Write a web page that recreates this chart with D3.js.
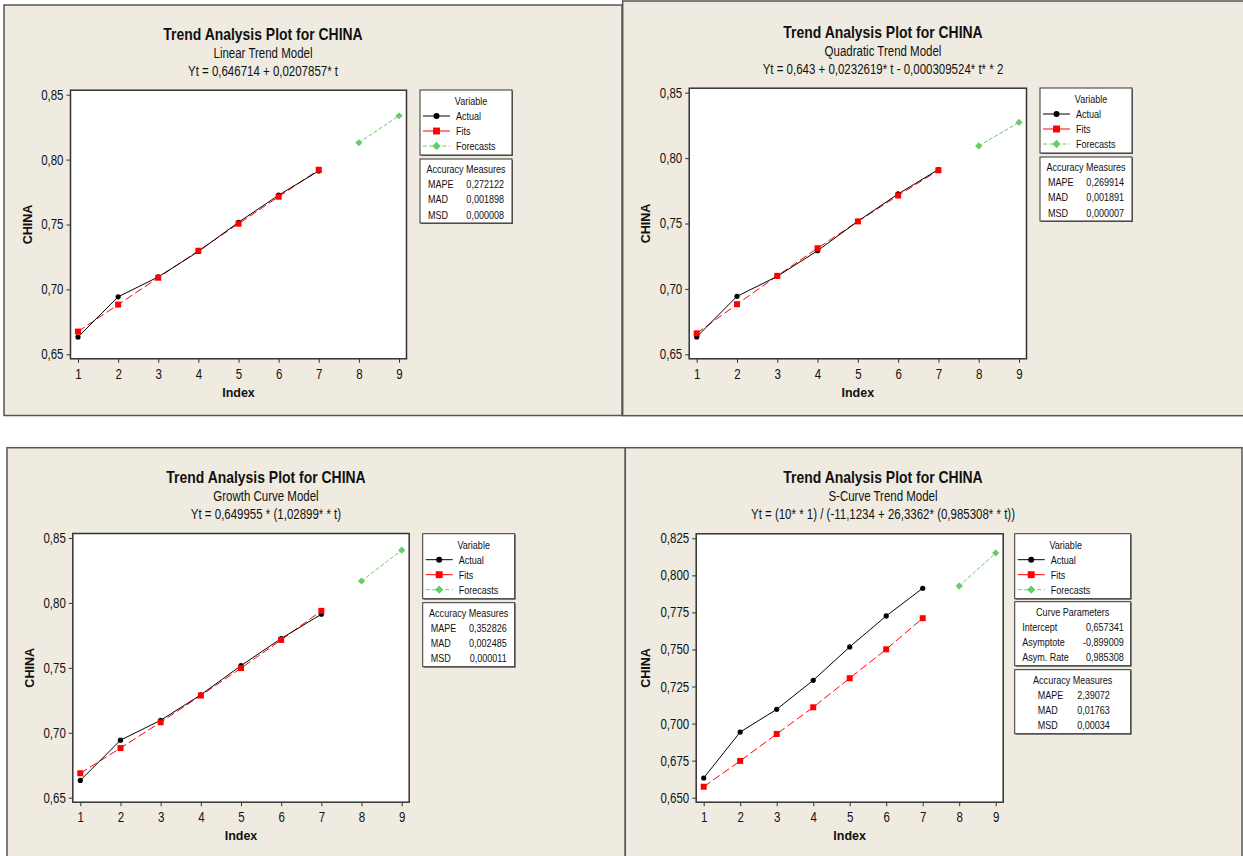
<!DOCTYPE html>
<html>
<head>
<meta charset="UTF-8">
<title>Trend Analysis Plot for CHINA</title>
<script src="https://cdn.jsdelivr.net/npm/d3@7"></script>
<style>
body { margin: 0; background: #fff; }
svg { display: block; }
text { font-family: "Liberation Sans", Arial, sans-serif; fill: #111; }
.title { font-weight: bold; font-size: 17px; }
.sub { font-size: 14px; }
.axlabel { font-weight: bold; font-size: 12.5px; }
.tick text { font-size: 14px; }
.tick line { stroke: #333; }
.leg { font-size: 11px; }
</style>
</head>
<body>
<svg id="chart" width="1243" height="856"></svg>
<script>
// ---- data ----
var fitIndex = [1, 2, 3, 4, 5, 6, 7];
var forecastIndex = [8, 9];
var xTicks = [1, 2, 3, 4, 5, 6, 7, 8, 9];
var yTicks = [0.65, 0.70, 0.75, 0.80, 0.85];
var yTicksS = [0.650, 0.675, 0.700, 0.725, 0.750, 0.775, 0.800, 0.825];

var actual = [0.6633, 0.6943, 0.7096, 0.7292, 0.7517, 0.7726, 0.7913];

var linearFits = [0.6675, 0.6883, 0.7090, 0.7298, 0.7506, 0.7714, 0.7922];
var linearForecasts = [0.8130, 0.8338];
var quadFits = [0.6660, 0.6883, 0.7100, 0.7311, 0.7516, 0.7714, 0.7907];
var quadForecasts = [0.8093, 0.8273];
var growthFits = [0.6688, 0.6882, 0.7081, 0.7287, 0.7498, 0.7715, 0.7939];
var growthForecasts = [0.8169, 0.8406];
var scurveFits = [0.6574, 0.6748, 0.6930, 0.7110, 0.7306, 0.7501, 0.7711];
var scurveForecasts = [0.7928, 0.8151];

var modelNames = ["Linear Trend Model", "Quadratic Trend Model", "Growth Curve Model", "S-Curve Trend Model"];
var equations = [
  "Yt = 0,646714 + 0,0207857* t",
  "Yt = 0,643 + 0,0232619* t - 0,000309524* t* * 2",
  "Yt = 0,649955 *  (1,02899* * t)",
  "Yt = (10* * 1) / (-11,1234 + 26,3362* (0,985308* * t))"
];
var accuracyLabels = ["MAPE", "MAD", "MSD"];
var linearAccuracy = ["0,272122", "0,001898", "0,000008"];
var quadAccuracy = ["0,269914", "0,001891", "0,000007"];
var growthAccuracy = ["0,352826", "0,002485", "0,000011"];
var scurveAccuracy = ["2,39072", "0,01763", "0,00034"];
var curveParamLabels = ["Intercept", "Asymptote", "Asym. Rate"];
var curveParamValues = ["0,657341", "-0,899009", "0,985308"];
var legendLabels = ["Actual", "Fits", "Forecasts"];

// ---- layout ----
var panels = [
  {frame: [4, 5, 618, 410.5], cx: 263, ty: 34, xr: [78, 399], yr: [354.3, 94.7], ticks: yTicks, dec: 2,
   legX: 420, legW: 92, legY: 90, name: modelNames[0], eq: equations[0], fits: linearFits, fc: linearForecasts, acc: linearAccuracy},
  {frame: [622.7, 1, 625, 414.7], cx: 883, ty: 31.7, xr: [696.7, 1019], yr: [354.3, 92.7], ticks: yTicks, dec: 2,
   legX: 1040, legW: 92, legY: 88, name: modelNames[1], eq: equations[1], fits: quadFits, fc: quadForecasts, acc: quadAccuracy},
  {frame: [7, 447.7, 618.3, 420], cx: 266, ty: 477, xr: [80.3, 401.7], yr: [797.7, 538], ticks: yTicks, dec: 2,
   legX: 422.7, legW: 92, legY: 533.7, name: modelNames[2], eq: equations[2], fits: growthFits, fc: growthForecasts, acc: growthAccuracy},
  {frame: [625.3, 447.7, 616.7, 420], cx: 883, ty: 477, xr: [703.7, 995.7], yr: [797.7, 538.3], ticks: yTicksS, dec: 3,
   legX: 1014.7, legW: 116, legY: 533.7, name: modelNames[3], eq: equations[3], fits: scurveFits, fc: scurveForecasts, acc: scurveAccuracy,
   params: true}
];

var locale = d3.formatLocale({decimal: ",", thousands: ".", grouping: [3], currency: ["", ""]});
var svg = d3.select("#chart");

function diamond(g, cx, cy, r) {
  g.append("path").attr("d", "M" + cx + "," + (cy - r) + "L" + (cx + r) + "," + cy + "L" + cx + "," + (cy + r) + "L" + (cx - r) + "," + cy + "Z")
    .attr("fill", "#66cc66");
}
function marker(g, kind, cx, cy, k) {
  k = k || 1;
  if (kind == 0) g.append("circle").attr("cx", cx).attr("cy", cy).attr("r", 2.6 * k).attr("fill", "#000");
  else if (kind == 1) g.append("rect").attr("x", cx - 3 * k).attr("y", cy - 3 * k).attr("width", 6 * k).attr("height", 6 * k).attr("fill", "#ff0000");
  else diamond(g, cx, cy, 3.6 * k);
}
var lineColor = ["#000", "#ff0000", "#66cc66"];
var lineDash = [null, "8,3.5", "4,2"];
var legendDash = [null, null, "4,2.5"];

function box(g, x, y, w, h) {
  g.append("rect").attr("x", x + 1).attr("y", y + 1).attr("width", w).attr("height", h).attr("fill", "#666");
  g.append("rect").attr("x", x).attr("y", y).attr("width", w).attr("height", h)
    .attr("fill", "#fff").attr("stroke", "#333").attr("stroke-width", 1);
}

function tableBox(g, x, y, w, title, labels, values, labelX, valueX, valueAnchor) {
  box(g, x, y, w, 64);
  g.append("text").attr("class", "leg n").attr("x", x + w / 2).attr("y", y + 14).attr("text-anchor", "middle").text(title);
  labels.forEach(function(l, i) {
    g.append("text").attr("class", "leg n").attr("x", x + labelX).attr("y", y + 29 + i * 15.3).text(l);
    g.append("text").attr("class", "leg n").attr("x", x + valueX).attr("y", y + 29 + i * 15.3)
      .attr("text-anchor", valueAnchor).text(values[i]);
  });
}

panels.forEach(function(p) {
  var g = svg.append("g");
  g.append("rect").attr("x", p.frame[0]).attr("y", p.frame[1]).attr("width", p.frame[2]).attr("height", p.frame[3])
    .attr("fill", "#efebe1").attr("stroke", "#555").attr("stroke-width", 1.5);

  g.append("text").attr("class", "title n").attr("x", p.cx).attr("y", p.ty + 6).attr("text-anchor", "middle").text("Trend Analysis Plot for CHINA");
  g.append("text").attr("class", "sub n").attr("x", p.cx).attr("y", p.ty + 24).attr("text-anchor", "middle").text(p.name);
  g.append("text").attr("class", "sub n").attr("x", p.cx).attr("y", p.ty + 42).attr("text-anchor", "middle").text(p.eq);

  var x = d3.scaleLinear().domain([1, 9]).range(p.xr);
  var y = d3.scaleLinear().domain([p.ticks[0], p.ticks[p.ticks.length - 1]]).range(p.yr);
  var bx = p.xr[0] - 7.5, bw = p.xr[1] - p.xr[0] + 15;
  var by = p.yr[1] - 4.5, bh = p.yr[0] - p.yr[1] + 9;

  g.append("rect").attr("x", bx).attr("y", by).attr("width", bw).attr("height", bh)
    .attr("fill", "#fff").attr("stroke", "#333").attr("stroke-width", 1.5);

  var fmt = locale.format("." + p.dec + "f");
  var ya = g.append("g").attr("transform", "translate(" + bx + ",0)")
    .call(d3.axisLeft(y).tickValues(p.ticks).tickSize(4).tickPadding(3).tickFormat(fmt));
  var xa = g.append("g").attr("transform", "translate(0," + (by + bh) + ")")
    .call(d3.axisBottom(x).tickValues(xTicks).tickSize(4).tickPadding(6).tickFormat(d3.format("d")));
  ya.select(".domain").remove();
  xa.select(".domain").remove();
  g.selectAll(".tick text").classed("n", true);

  g.append("text").attr("class", "axlabel").attr("x", bx + bw / 2).attr("y", by + bh + 38).attr("text-anchor", "middle").text("Index");
  g.append("text").attr("class", "axlabel").attr("text-anchor", "middle")
    .attr("transform", "translate(" + (bx - (p.dec == 3 ? 46 : 39)) + "," + (by + bh / 2) + ") rotate(-90)").text("CHINA");

  var line = d3.line().x(function(d) { return x(d[0]); }).y(function(d) { return y(d[1]); });
  var actualPts = fitIndex.map(function(t, i) { return [t, actual[i]]; });
  var fitPts = fitIndex.map(function(t, i) { return [t, p.fits[i]]; });
  var fcPts = forecastIndex.map(function(t, i) { return [t, p.fc[i]]; });

  [[fitPts, 1], [actualPts, 0], [fcPts, 2]].forEach(function(s) {
    g.append("path").attr("d", line(s[0])).attr("fill", "none")
      .attr("stroke", lineColor[s[1]]).attr("stroke-width", 1).attr("stroke-dasharray", lineDash[s[1]]);
  });
  [[actualPts, 0], [fitPts, 1], [fcPts, 2]].forEach(function(s) {
    s[0].forEach(function(d) { marker(g, s[1], x(d[0]), y(d[1])); });
  });

  // legend
  var lx = p.legX, ly = p.legY, lw = p.legW;
  box(g, lx, ly, lw, 65);
  g.append("text").attr("class", "leg n").attr("x", lx + 51).attr("y", ly + 15).attr("text-anchor", "middle").text("Variable");
  legendLabels.forEach(function(l, i) {
    var yy = ly + 26 + i * 15;
    g.append("line").attr("x1", lx + 3).attr("x2", lx + 30).attr("y1", yy).attr("y2", yy)
      .attr("stroke", lineColor[i]).attr("stroke-dasharray", legendDash[i]);
    marker(g, i, lx + 16.5, yy, 1.15);
    g.append("text").attr("class", "leg n").attr("x", lx + 36).attr("y", yy + 4).text(l);
  });

  if (p.params) {
    tableBox(g, lx, ly + 68, lw, "Curve Parameters", curveParamLabels, curveParamValues, 7.5, 109, "end");
    tableBox(g, lx, ly + 136, lw, "Accuracy Measures", accuracyLabels, p.acc, 23, 62.5, "start");
  } else {
    tableBox(g, lx, ly + 69, lw, "Accuracy Measures", accuracyLabels, p.acc, 8, 84, "end");
  }
});

// Minitab's narrow face: squeeze Liberation Sans horizontally
svg.selectAll("text.n").each(function() {
  var w = this.getComputedTextLength();
  d3.select(this).attr("textLength", w * 0.82).attr("lengthAdjust", "spacingAndGlyphs");
});
</script>
</body>
</html>
